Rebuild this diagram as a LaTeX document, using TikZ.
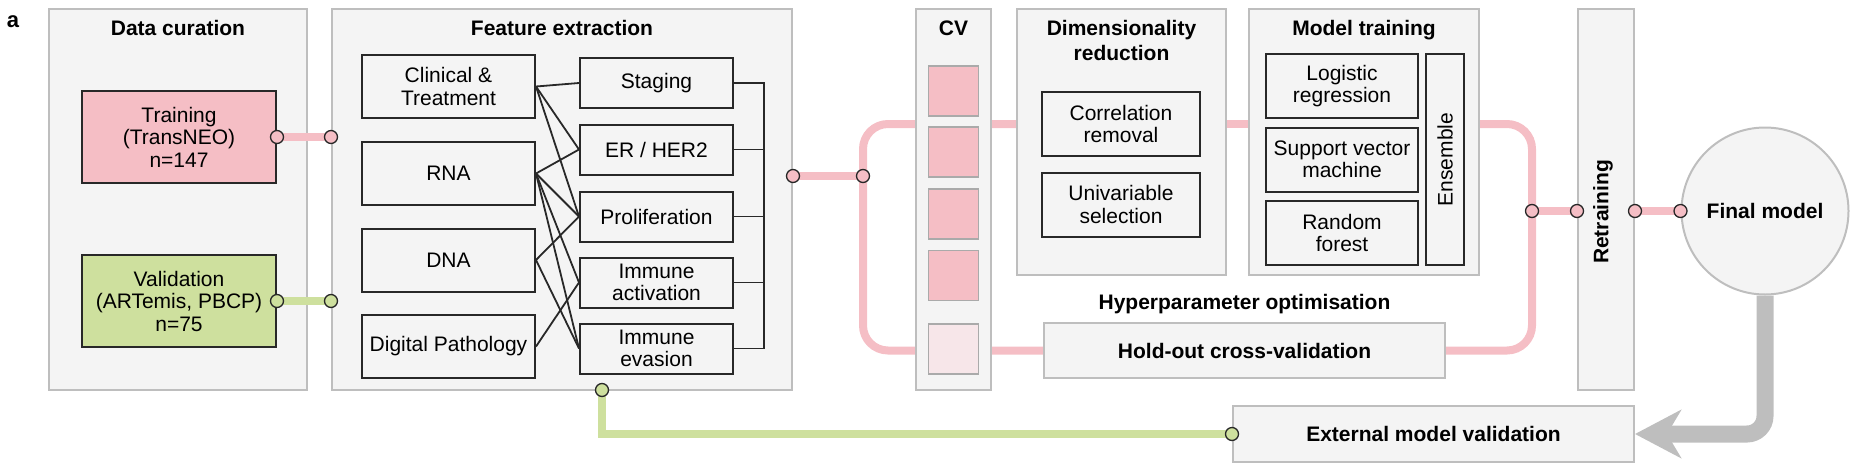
\documentclass[tikz,border=0pt]{standalone}
\usepackage{fontspec}
\setmainfont{Liberation Sans}
\usetikzlibrary{arrows.meta,calc}
\pgfdeclarelayer{bg}\pgfdeclarelayer{fg}\pgfsetlayers{bg,main,fg}
\definecolor{pinkc}{RGB}{245,190,197}
\definecolor{pinkl}{RGB}{247,230,233}
\definecolor{greenc}{RGB}{206,224,158}
\definecolor{pfill}{RGB}{244,244,244}
\definecolor{pline}{RGB}{190,190,190}
\definecolor{bline}{RGB}{40,40,40}
\definecolor{agray}{RGB}{190,190,190}
\definecolor{sqline}{RGB}{170,170,170}
\newcommand\myfs{\fontsize{21}{22.5}\selectfont}
\newcommand\myfsb{\fontsize{21}{25}\selectfont\bfseries}
\begin{document}
\begin{tikzpicture}[x=1pt,y=-1pt,
  panel/.style={draw=pline, line width=2pt, fill=pfill, inner sep=0pt},
  ibox/.style={draw=bline, line width=2pt, fill=pfill, align=center, font=\myfs, inner sep=2pt},
  bbox/.style={draw=pline, line width=2pt, fill=pfill, font=\myfsb, inner sep=2pt},
  ttl/.style={font=\myfsb, anchor=base, inner sep=0pt},
  conn/.style={circle, draw=bline, line width=1.3pt, minimum size=13pt, inner sep=0pt},
  pinkline/.style={line width=8pt, draw=pinkc},
  greenline/.style={line width=8pt, draw=greenc},
  thinl/.style={line width=1.8pt, draw=bline},
  cvsq/.style={draw=sqline, line width=1.5pt, minimum width=50pt, minimum height=50pt, inner sep=0pt},
  arrowline/.style={line width=17pt, draw=agray, rounded corners=18pt,
    -{Stealth[length=46pt, width=48pt, inset=14pt]}}
]
\useasboundingbox (0,0) rectangle (1866,472);

% label
\node[font=\fontsize{22}{22}\selectfont\bfseries, anchor=base, inner sep=0pt] (lbl) at (13,27) {a};

% panels
\node[panel, minimum width=258pt, minimum height=381pt] (dc) at (178,199.5) {};
\node[panel, minimum width=460pt, minimum height=381pt] (fe) at (562,199.5) {};
\node[panel, minimum width=75pt, minimum height=381pt] (cv) at (953.5,199.5) {};
\node[panel, minimum width=209pt, minimum height=266pt] (dim) at (1121.5,142) {};
\node[panel, minimum width=230pt, minimum height=266pt] (mt) at (1364,142) {};
\node[panel, minimum width=56pt, minimum height=381pt] (retr) at (1606,199.5) {};
\node[bbox, minimum width=401pt, minimum height=55pt] (hold) at (1244.5,350.5) {Hold-out cross-validation};
\node[bbox, minimum width=401pt, minimum height=56pt] (ext) at (1433.5,434) {External model validation};
\node[circle, draw=pline, line width=2pt, fill=pfill, minimum size=167pt, inner sep=0pt, font=\myfsb] (fm) at (1765,211) {Final model};

% titles
\node[ttl] (tdc) at (178,35) {Data curation};
\node[ttl] (tfe) at (562,35) {Feature extraction};
\node[ttl] (tcv) at (953.5,35) {CV};
\node[ttl] (tdim1) at (1121.5,35) {Dimensionality};
\node[ttl] (tdim2) at (1121.5,60) {reduction};
\node[ttl] (tmt) at (1364,35) {Model training};
\node[ttl] (thyp) at (1244.5,309) {Hyperparameter optimisation};
\node[font=\myfsb, rotate=90, inner sep=0pt] (trt) at (1603,212) {Retraining};

% data curation boxes
\node[ibox, fill=pinkc, minimum width=194pt, minimum height=92pt] (train) at (179,137) {Training\\(TransNEO)\\n=147};
\node[ibox, fill=greenc, minimum width=194pt, minimum height=92pt] (val) at (179,301) {Validation\\(ARTemis, PBCP)\\n=75};

% feature extraction boxes
\node[ibox, minimum width=173pt, minimum height=63pt] (clin) at (448.5,86.5) {Clinical \&\\Treatment};
\node[ibox, minimum width=173pt, minimum height=63pt] (rna) at (448.5,173.5) {RNA};
\node[ibox, minimum width=173pt, minimum height=63pt] (dna) at (448.5,260) {DNA};
\node[ibox, minimum width=173pt, minimum height=63pt] (dp) at (448.5,346.5) {Digital Pathology};

\node[ibox, minimum width=153pt, minimum height=50pt] (stg) at (656.5,83) {Staging};
\node[ibox, minimum width=153pt, minimum height=50pt] (er) at (656.5,149.5) {ER / HER2};
\node[ibox, minimum width=153pt, minimum height=50pt] (pro) at (656.5,216.5) {Proliferation};
\node[ibox, minimum width=153pt, minimum height=50pt] (ia) at (656.5,282.5) {Immune\\activation};
\node[ibox, minimum width=153pt, minimum height=50pt] (ie) at (656.5,348.5) {Immune\\evasion};

% CV squares
\node[cvsq, fill=pinkc] (cv1) at (953.5,91) {};
\node[cvsq, fill=pinkc] (cv2) at (953.5,152) {};
\node[cvsq, fill=pinkc] (cv3) at (953.5,214) {};
\node[cvsq, fill=pinkc] (cv4) at (953.5,275.5) {};
\node[cvsq, fill=pinkl] (cv5) at (953.5,349) {};

% dimensionality reduction boxes
\node[ibox, minimum width=158pt, minimum height=64pt] (corr) at (1121,124) {Correlation\\removal};
\node[ibox, minimum width=158pt, minimum height=64pt] (uni) at (1121,204.5) {Univariable\\selection};

% model training boxes
\node[ibox, minimum width=152pt, minimum height=64pt] (lr) at (1342,86) {Logistic\\regression};
\node[ibox, minimum width=152pt, minimum height=64pt] (svm) at (1342,159.5) {Support vector\\machine};
\node[ibox, minimum width=152pt, minimum height=64pt] (rf) at (1342,233) {Random\\forest};
\node[ibox, rotate=90, minimum width=211pt, minimum height=38pt] (ens) at (1445,159.5) {Ensemble};

% feature connections
\draw[thinl] (clin.east) -- (stg.west);
\draw[thinl] (clin.east) -- (er.west);
\draw[thinl] (clin.east) -- (pro.west);
\draw[thinl] (rna.east) -- (er.west);
\draw[thinl] (rna.east) -- (pro.west);
\draw[thinl] (rna.east) -- (ia.west);
\draw[thinl] (rna.east) -- (ie.west);
\draw[thinl] (dna.east) -- (pro.west);
\draw[thinl] (dna.east) -- (ie.west);
\draw[thinl] (dp.east) -- (ia.west);

% bracket
\coordinate (brk) at (764,0);
\draw[thinl] (stg.east) -- (stg.east -| brk) -- (ie.east -| brk) -- (ie.east);
\draw[thinl] (er.east) -- (er.east -| brk);
\draw[thinl] (pro.east) -- (pro.east -| brk);
\draw[thinl] (ia.east) -- (ia.east -| brk);

% connector circles
\begin{pgfonlayer}{fg}
\node[conn, fill=pinkc] (c1) at (train.east) {};
\node[conn, fill=pinkc] (c2) at (fe.west |- train.east) {};
\node[conn, fill=greenc] (v1) at (val.east) {};
\node[conn, fill=greenc] (v2) at (fe.west |- val.east) {};
\node[conn, fill=pinkc] (c3) at (fe.east |- 0,176) {};
\node[conn, fill=pinkc] (c4) at (863,176) {};
\node[conn, fill=pinkc] (c5) at (1532,211) {};
\node[conn, fill=pinkc] (c6) at (retr.west |- c5) {};
\node[conn, fill=pinkc] (c7) at (retr.east |- c5) {};
\node[conn, fill=pinkc] (c8) at (fm.west) {};
\node[conn, fill=greenc] (g1) at (602,390) {};
\node[conn, fill=greenc] (g2) at (ext.west) {};
\end{pgfonlayer}

% thick connectors
\draw[pinkline] (c1.center) -- (c2.center);
\draw[greenline] (v1.center) -- (v2.center);
\draw[pinkline] (c3.center) -- (c4.center);
\draw[pinkline] (dim.east |- corr) -- (mt.west |- corr);
\draw[pinkline] (c5.center) -- (c6.center);
\draw[pinkline] (c7.center) -- (c8.center);
\draw[greenline] (g1.center) |- (g2.center);

\begin{pgfonlayer}{bg}
\draw[pinkline, rounded corners=25pt] (dim.west |- corr) -| (c4.center) |- (hold.west);
\draw[pinkline, rounded corners=25pt] (mt.east |- corr) -| (c5.center) |- (hold.east);
\draw[arrowline] (fm.south) |- (ext.east);
\end{pgfonlayer}
\end{tikzpicture}
\end{document}
